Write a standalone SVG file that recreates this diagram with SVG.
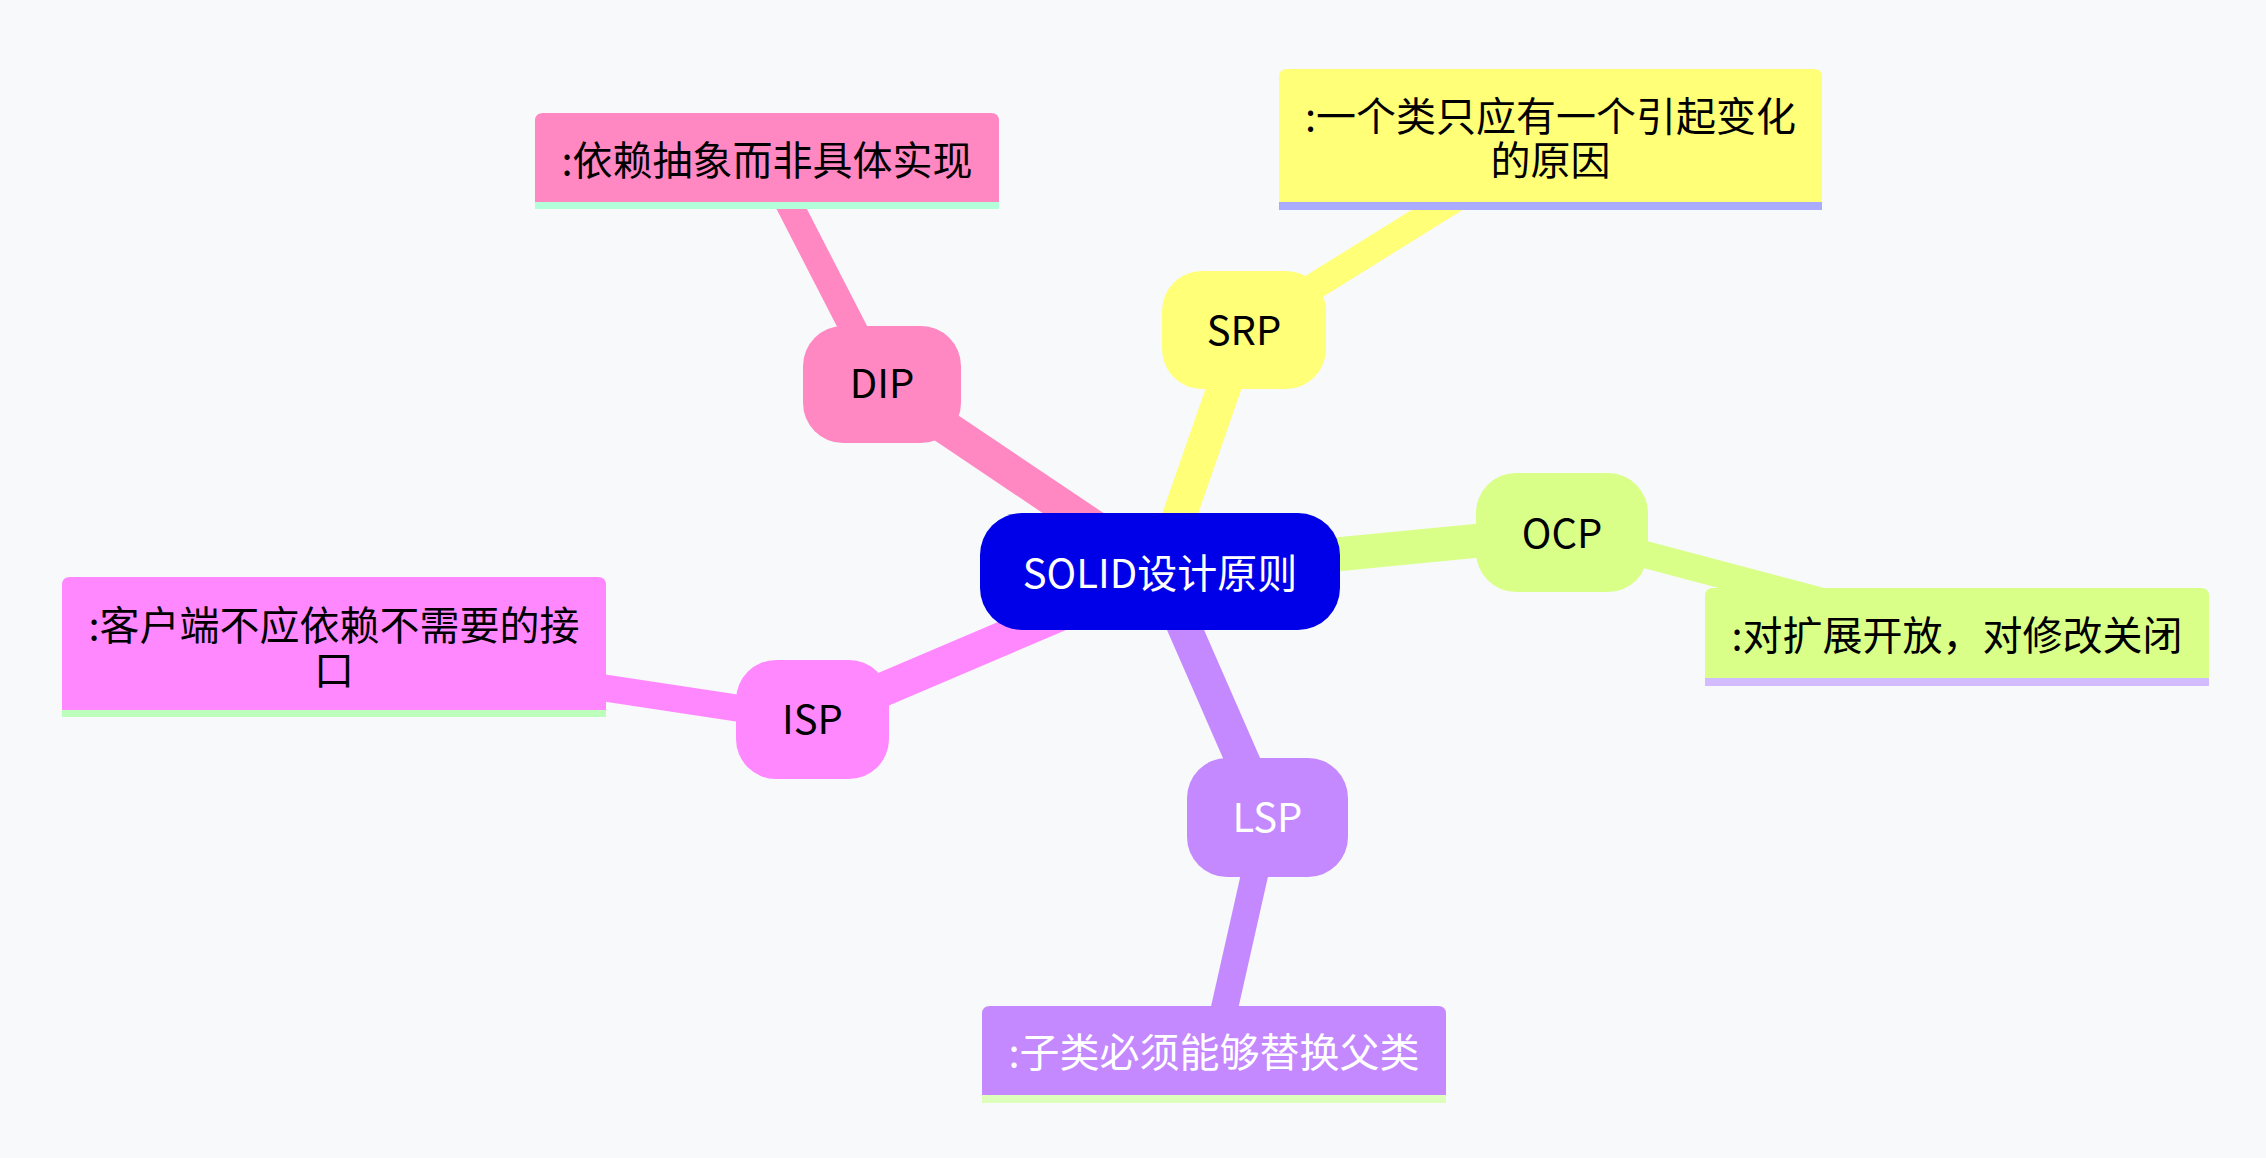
<svg xmlns="http://www.w3.org/2000/svg" width="2266" height="1158" viewBox="0 0 2266 1158">
  <style>
    text { font-family: "Noto Sans CJK SC", "Noto Sans", sans-serif; font-size: 40px; text-anchor: middle; fill: #000000; }
    .w { fill: #ffffff; }
    .e1 { stroke-width: 34; fill: none; stroke-linecap: butt; }
    .e2 { stroke-width: 27; fill: none; stroke-linecap: butt; }
    .s0 { fill: #ffff78; stroke: #ffff78; }
    .s1 { fill: #d9ff88; stroke: #d9ff88; }
    .s2 { fill: #c488ff; stroke: #c488ff; }
    .s3 { fill: #ff88ff; stroke: #ff88ff; }
    .s4 { fill: #ff88c2; stroke: #ff88c2; }
    .edges .s0, .edges .s1, .edges .s2, .edges .s3, .edges .s4 { fill: none; }
    .nodes rect, .nodes path { stroke: none; }
  </style>
  <rect x="0" y="0" width="2266" height="1158" fill="#f8f9fa"/>

  <g id="connectors" class="edges">
    <line class="e1 s4" x1="1160" y1="571.5" x2="882" y2="384.5"/>
    <line class="e1 s0" x1="1160" y1="571.5" x2="1244" y2="330"/>
    <line class="e1 s1" x1="1160" y1="571.5" x2="1562" y2="532.5"/>
    <line class="e1 s3" x1="1160" y1="571.5" x2="812.5" y2="719.5"/>
    <line class="e1 s2" x1="1160" y1="571.5" x2="1267.5" y2="817.5"/>
    <line class="e2 s4" x1="882" y1="384.5" x2="767" y2="161"/>
    <line class="e2 s0" x1="1244" y1="330" x2="1550.5" y2="139.5"/>
    <line class="e2 s1" x1="1562" y1="532.5" x2="1957" y2="637"/>
    <line class="e2 s3" x1="812.5" y1="719.5" x2="334" y2="647"/>
    <line class="e2 s2" x1="1267.5" y1="817.5" x2="1214" y2="1054.5"/>
  </g>

  <g class="nodes">
    <g id="root">
      <rect x="980" y="513" width="360" height="117" rx="42" fill="#0000e8"/>
      <text class="w" x="1160" y="588">SOLID设计原则</text>
    </g>

    <g id="srp">
      <rect class="s0" x="1162" y="271" width="164" height="118" rx="40"/>
      <text x="1244" y="345">SRP</text>
    </g>
    <g id="srp-desc">
      <path class="s0" d="M1279,202 V77 Q1279,69 1287,69 H1814 Q1822,69 1822,77 V202 Z"/>
      <rect x="1279" y="202" width="543" height="8" fill="#aaaaff"/>
      <text x="1550.5" y="131">:一个类只应有一个引起变化<tspan x="1550.5" dy="44">的原因</tspan></text>
    </g>

    <g id="ocp">
      <rect class="s1" x="1476" y="473" width="172" height="119" rx="40"/>
      <text x="1562" y="548">OCP</text>
    </g>
    <g id="ocp-desc">
      <path class="s1" d="M1705,678 V596 Q1705,588 1713,588 H2201 Q2209,588 2209,596 V678 Z"/>
      <rect x="1705" y="678" width="504" height="8" fill="#d2bbff"/>
      <text x="1957" y="650">:对扩展开放，对修改关闭</text>
    </g>

    <g id="lsp">
      <rect class="s2" x="1187" y="758" width="161" height="119" rx="40"/>
      <text class="w" x="1267.5" y="832">LSP</text>
    </g>
    <g id="lsp-desc">
      <path class="s2" d="M982,1095 V1014 Q982,1006 990,1006 H1438 Q1446,1006 1446,1014 V1095 Z"/>
      <rect x="982" y="1095" width="464" height="8" fill="#ddffbb"/>
      <text class="w" x="1214" y="1067">:子类必须能够替换父类</text>
    </g>

    <g id="isp">
      <rect class="s3" x="736" y="660" width="153" height="119" rx="40"/>
      <text x="812.5" y="734">ISP</text>
    </g>
    <g id="isp-desc">
      <path class="s3" d="M62,710 V585 Q62,577 70,577 H598 Q606,577 606,585 V710 Z"/>
      <rect x="62" y="710" width="544" height="7" fill="#bbffbb"/>
      <text x="334" y="640">:客户端不应依赖不需要的接<tspan x="334" dy="45">口</tspan></text>
    </g>

    <g id="dip">
      <rect class="s4" x="803" y="326" width="158" height="117" rx="40"/>
      <text x="882" y="398">DIP</text>
    </g>
    <g id="dip-desc">
      <path class="s4" d="M535,202 V121 Q535,113 543,113 H991 Q999,113 999,121 V202 Z"/>
      <rect x="535" y="202" width="464" height="7" fill="#b3ffd9"/>
      <text x="767" y="175">:依赖抽象而非具体实现</text>
    </g>
  </g>
</svg>
